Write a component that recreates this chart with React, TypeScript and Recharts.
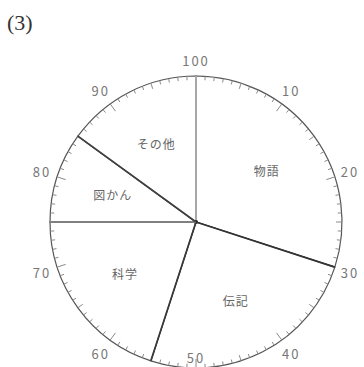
import React from 'react';
import { PieChart, Pie, Cell, Customized } from 'recharts';

const CATEGORIES = ['物語', '伝記', '科学', '図かん', 'その他'];
const PERCENTS = [30, 25, 20, 10, 15];
const SCALE_LABELS = ['100', '10', '20', '30', '40', '50', '60', '70', '80', '90'];
const SCALE_STEPS = 100;

// colour and width of the radius drawn at the start of each slice
const EDGE_COLORS = ['#a8a8a8', '#333', '#383838', '#808080', '#404040'];
const EDGE_WIDTHS = [2, 1.7, 1.7, 2, 1.7];

const books = CATEGORIES.map((name, i) => ({ name, value: PERCENTS[i] }));
const scale = Array.from({ length: SCALE_STEPS }, (_, i) => ({ name: String(i), value: 1 }));

const W = 364;
const H = 367;
const CX = 196;
const CY = 222;
const R = 146;
const FONT = '"Noto Sans CJK JP", "Noto Sans", sans-serif';

const RAD = Math.PI / 180;
const polar = (cx: number, cy: number, r: number, angle: number) => ({
  x: cx + Math.cos(-angle * RAD) * r,
  y: cy + Math.sin(-angle * RAD) * r,
});

const startOf = (p: any) =>
  p.startAngle !== undefined ? p.startAngle : p.midAngle + (p.percent * 360) / 2;

const renderBookLabel = (p: any) => {
  const { cx, cy, outerRadius, midAngle, index } = p;
  const edge = polar(cx, cy, outerRadius, startOf(p));
  const pos = polar(cx, cy, outerRadius * 0.6, midAngle);
  const name = p.payload?.name ?? CATEGORIES[index];
  return (
    <g key={`book-${index}`}>
      <line x1={cx} y1={cy} x2={edge.x} y2={edge.y} stroke={EDGE_COLORS[index]} strokeWidth={EDGE_WIDTHS[index]} />
      {index === 0 && <circle cx={cx} cy={cy} r={2} fill="#222" />}
      <text x={pos.x} y={pos.y} textAnchor="middle" dominantBaseline="central"
        fontFamily={FONT} fontSize={12} fill="#666" letterSpacing={1}>
        {name}
      </text>
    </g>
  );
};

const renderTick = (p: any) => {
  const { cx, cy, outerRadius, startAngle } = p;
  const i = Math.round((90 - startAngle) / (360 / SCALE_STEPS));
  const len = i % 10 === 0 ? 9 : i % 5 === 0 ? 6 : 4;
  const a = polar(cx, cy, outerRadius, startAngle);
  const b = polar(cx, cy, outerRadius - len, startAngle);
  return <line x1={a.x} y1={a.y} x2={b.x} y2={b.y} stroke="#8a8a8a" strokeWidth={1} />;
};

const renderScaleLabel = (p: any) => {
  const { cx, cy, outerRadius, index } = p;
  if (index % 10 !== 0) return null;
  const pos = polar(cx, cy, outerRadius + 16, startOf(p));
  return (
    <text key={`scale-${index}`} x={pos.x} y={Math.min(pos.y, H - 10)} textAnchor="middle"
      dominantBaseline="central" fontFamily={FONT} fontSize={13} fill="#777" letterSpacing={2}>
      {SCALE_LABELS[index / 10]}
    </text>
  );
};

const Title = () => (
  <text x={7} y={30} fontFamily='"Liberation Serif", "DejaVu Serif", serif' fontSize={22} fill="#333">
    (3)
  </text>
);

const App: React.FC = () => {
  return (
    <div style={{ position: 'absolute', left: 0, top: 0, width: W, height: H, background: '#fff' }}>
      <PieChart width={W} height={H} margin={{ top: 0, right: 0, bottom: 0, left: 0 }}>
        <Pie
          data={books}
          dataKey="value"
          nameKey="name"
          cx={CX}
          cy={CY}
          innerRadius={0}
          outerRadius={R}
          startAngle={90}
          endAngle={-270}
          stroke="#555"
          strokeWidth={1.2}
          label={renderBookLabel}
          labelLine={false}
          isAnimationActive={false}
        >
          {books.map((b) => (
            <Cell key={b.name} fill="#fff" />
          ))}
        </Pie>
        <Pie
          data={scale}
          dataKey="value"
          cx={CX}
          cy={CY}
          innerRadius={0}
          outerRadius={R}
          startAngle={90}
          endAngle={-270}
          fill="none"
          shape={renderTick}
          label={renderScaleLabel}
          labelLine={false}
          isAnimationActive={false}
        />
        <Customized component={Title} />
      </PieChart>
    </div>
  );
};

export default App;
